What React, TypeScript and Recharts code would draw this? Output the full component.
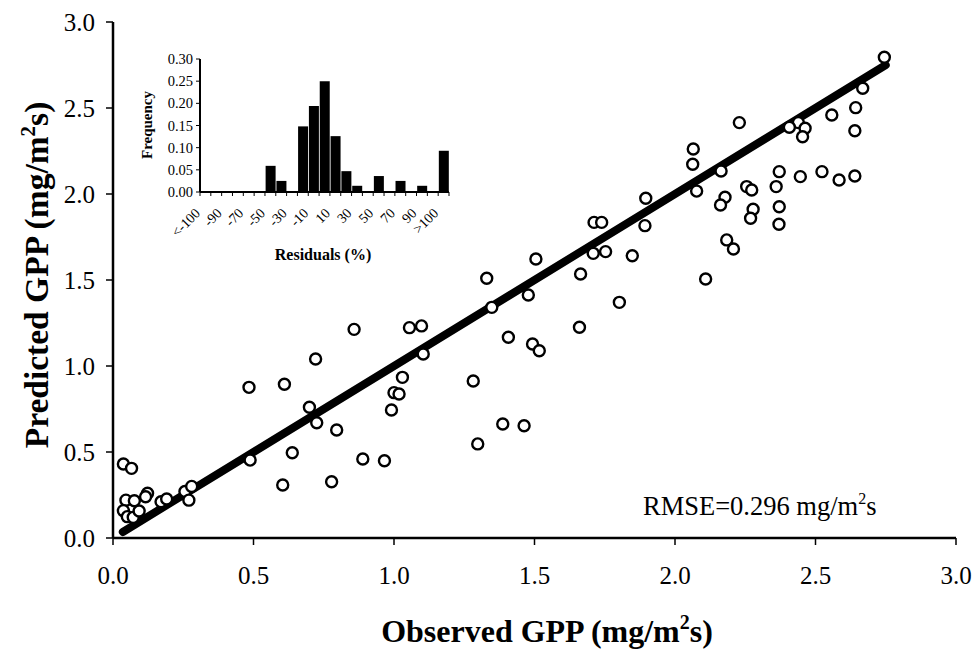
import { ScatterChart, Scatter, XAxis, YAxis, BarChart, Bar } from 'recharts';

const FONT = '"Liberation Serif", "Times New Roman", serif';

// observed vs predicted GPP (mg/m2s)
const obsGPP = [
    0.037, 0.066, 0.046, 0.076, 0.037, 0.051, 0.072, 0.093, 0.123, 0.116,
    0.171, 0.191, 0.256, 0.28, 0.27, 0.488, 0.484, 0.61, 0.699, 0.725,
    0.796, 0.638, 0.604, 0.778, 1.33, 1.478, 1.348, 0.858, 1.055, 1.098,
    1.407, 1.493, 1.517, 1.104, 0.721, 1.03, 1.282, 1.0, 1.018, 0.991,
    1.387, 1.463, 1.298, 0.889, 0.966, 2.065, 2.063, 2.077, 1.896, 1.893,
    1.712, 1.739, 1.709, 1.753, 1.848, 1.505, 1.664, 1.802, 1.66, 2.745,
    2.668, 2.643, 2.558, 2.64, 2.439, 2.407, 2.463, 2.454, 2.229, 2.164,
    2.371, 2.446, 2.523, 2.584, 2.64, 2.255, 2.273, 2.36, 2.178, 2.162,
    2.278, 2.269, 2.371, 2.37, 2.184, 2.208, 2.109,
];
const predGPP = [
    0.43, 0.405, 0.22, 0.217, 0.159, 0.124, 0.12, 0.157, 0.26, 0.24,
    0.211, 0.227, 0.27, 0.3, 0.22, 0.453, 0.876, 0.894, 0.76, 0.67,
    0.628, 0.496, 0.308, 0.327, 1.51, 1.413, 1.341, 1.213, 1.223, 1.233,
    1.167, 1.128, 1.089, 1.07, 1.041, 0.934, 0.913, 0.845, 0.837, 0.744,
    0.663, 0.653, 0.547, 0.459, 0.449, 2.262, 2.173, 2.017, 1.975, 1.816,
    1.835, 1.835, 1.655, 1.665, 1.641, 1.622, 1.535, 1.37, 1.225, 2.795,
    2.615, 2.502, 2.459, 2.368, 2.415, 2.388, 2.382, 2.333, 2.415, 2.134,
    2.13, 2.101, 2.13, 2.081, 2.105, 2.043, 2.023, 2.043, 1.981, 1.936,
    1.911, 1.859, 1.926, 1.824, 1.733, 1.68, 1.506,
];
// 1:1 line end points
const fitEnds = [0.035, 2.75];
const axisTicks = [0, 0.5, 1, 1.5, 2, 2.5, 3];

// residual histogram (inset)
const residualBins = [
    '<-100', '-100', '-90', '-80', '-70', '-60', '-50', '-40', '-30', '-20', '-10', '0',
    '10', '20', '30', '40', '50', '60', '70', '80', '90', '100', '>100',
];
const residualFreq = [
    0, 0, 0, 0, 0, 0, 0.059, 0.025, 0, 0.148, 0.194, 0.25,
    0.126, 0.047, 0.014, 0, 0.036, 0, 0.025, 0, 0.014, 0, 0.093,
];
const freqTicks = [0, 0.05, 0.1, 0.15, 0.2, 0.25, 0.3];

const points = obsGPP.map((x, i) => ({ x, y: predGPP[i] }));
const fitData = fitEnds.map((v) => ({ x: v, y: v }));
const residualData = residualBins.map((bin, i) => ({ bin, freq: residualFreq[i] }));

const INSET_PLOT_W = 249;
const BIN_W = INSET_PLOT_W / residualBins.length;

const Ring = (props: any) => (
    <circle cx={props.cx} cy={props.cy} r={5.5} fill="#fff" stroke="#000" strokeWidth={2.4} />
);

const ResidualTick = (props: any) => {
    const { x, y, index, payload } = props;
    const left = x - BIN_W / 2;
    const lx = left + 1;
    const ly = y + 22;
    return (
        <g>
            <line x1={left} x2={left} y1={y} y2={y + 4} stroke="#000" strokeWidth={1} />
            {index === residualBins.length - 1 && (
                <line x1={x + BIN_W / 2} x2={x + BIN_W / 2} y1={y} y2={y + 4} stroke="#000" strokeWidth={1} />
            )}
            {index % 2 === 0 && (
                <text
                    x={lx}
                    y={ly}
                    transform={`rotate(-45 ${lx} ${ly})`}
                    textAnchor="end"
                    fontSize={14}
                    fontFamily={FONT}
                    fill="#000"
                >
                    {payload.value}
                </text>
            )}
        </g>
    );
};

// page reset so the chart fills the 972x650 window without scrollbars
const PAGE_CSS = 'html, body { margin: 0; padding: 0; overflow: hidden; }';

const App = () => (
    <div style={{ position: 'relative', width: 972, height: 650 }}>
        <style>{PAGE_CSS}</style>
        <ScatterChart width={972} height={650} margin={{ top: 22, right: 16, left: 0, bottom: 0 }}>
            <XAxis
                type="number"
                dataKey="x"
                domain={[0, 3]}
                ticks={axisTicks}
                tickFormatter={(v: number) => v.toFixed(1)}
                height={112}
                tickSize={7}
                tickMargin={21}
                axisLine={{ stroke: '#000', strokeWidth: 2.5 }}
                tickLine={{ stroke: '#000', strokeWidth: 1.5 }}
                tick={{ fill: '#000', fontSize: 25, fontFamily: FONT }}
            />
            <YAxis
                type="number"
                dataKey="y"
                domain={[0, 3]}
                ticks={axisTicks}
                tickFormatter={(v: number) => v.toFixed(1)}
                width={113}
                tickSize={7}
                tickMargin={11}
                axisLine={{ stroke: '#000', strokeWidth: 2.5 }}
                tickLine={{ stroke: '#000', strokeWidth: 1.5 }}
                tick={{ fill: '#000', fontSize: 25, fontFamily: FONT }}
            />
            <Scatter
                data={fitData}
                line={{ stroke: '#000', strokeWidth: 8, strokeLinecap: 'round' }}
                shape={() => <g />}
                isAnimationActive={false}
            />
            <Scatter data={points} shape={Ring} isAnimationActive={false} />
            <text x={643} y={515} fontSize={26.5} fontFamily={FONT} fill="#000">
                RMSE=0.296 mg/m<tspan fontSize={16} dy={-11}>2</tspan>
                <tspan dy={11}>s</tspan>
            </text>
            <text x={547} y={642} textAnchor="middle" fontSize={32} fontWeight="bold" fontFamily={FONT} fill="#000">
                Observed GPP (mg/m<tspan fontSize={20} dy={-13}>2</tspan>
                <tspan dy={13}>s)</tspan>
            </text>
            <text
                x={48}
                y={275}
                transform="rotate(-90 48 275)"
                textAnchor="middle"
                fontSize={33.5}
                fontWeight="bold"
                fontFamily={FONT}
                fill="#000"
            >
                Predicted GPP (mg/m<tspan fontSize={21} dy={-13}>2</tspan>
                <tspan dy={13}>s)</tspan>
            </text>
        </ScatterChart>

        <div style={{ position: 'absolute', left: 130, top: 49 }}>
            <BarChart
                width={329}
                height={233}
                data={residualData}
                margin={{ top: 10, right: 10, left: 0, bottom: 0 }}
                barCategoryGap="6%"
            >
                <XAxis
                    dataKey="bin"
                    interval={0}
                    height={90}
                    tickLine={false}
                    tickSize={0}
                    tickMargin={0}
                    tick={<ResidualTick />}
                    axisLine={{ stroke: '#000', strokeWidth: 2 }}
                />
                <XAxis
                    xAxisId="top"
                    orientation="top"
                    dataKey="bin"
                    height={0}
                    tick={false}
                    tickLine={false}
                    axisLine={{ stroke: '#000', strokeWidth: 1.5 }}
                />
                <YAxis
                    domain={[0, 0.3]}
                    ticks={freqTicks}
                    tickFormatter={(v: number) => v.toFixed(2)}
                    width={70}
                    tickSize={4}
                    tickMargin={3}
                    axisLine={{ stroke: '#000', strokeWidth: 2 }}
                    tickLine={{ stroke: '#000', strokeWidth: 1 }}
                    tick={{ fill: '#000', fontSize: 14.5, fontFamily: FONT }}
                />
                <YAxis
                    yAxisId="right"
                    orientation="right"
                    domain={[0, 0.3]}
                    width={0}
                    tick={false}
                    tickLine={false}
                    axisLine={{ stroke: '#000', strokeWidth: 1.5 }}
                />
                <Bar dataKey="freq" fill="#000" isAnimationActive={false} />
                <text
                    x={22}
                    y={76}
                    transform="rotate(-90 22 76)"
                    textAnchor="middle"
                    fontSize={15}
                    fontWeight="bold"
                    fontFamily={FONT}
                    fill="#000"
                >
                    Frequency
                </text>
                <text x={193} y={211} textAnchor="middle" fontSize={16} fontWeight="bold" fontFamily={FONT} fill="#000">
                    Residuals (%)
                </text>
            </BarChart>
        </div>
    </div>
);

export default App;
